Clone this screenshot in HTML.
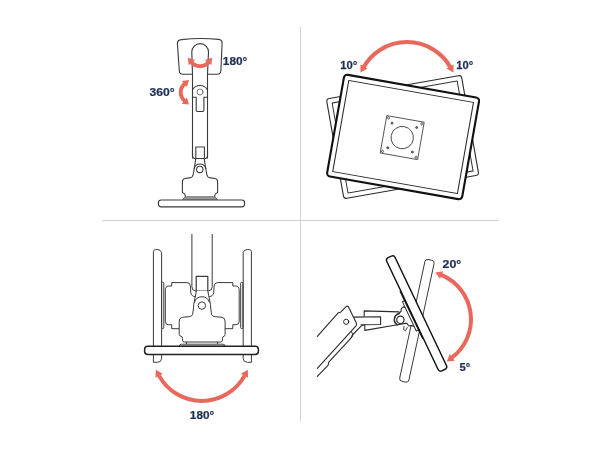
<!DOCTYPE html>
<html><head><meta charset="utf-8">
<style>
html,body{margin:0;padding:0;background:#fff;width:600px;height:450px;overflow:hidden}
svg{display:block}
text{font-family:"Liberation Sans",sans-serif;font-weight:bold;fill:#1f2f55;stroke:#1f2f55;stroke-linejoin:round}
svg{will-change:transform}
</style></head><body>
<svg width="600" height="450" viewBox="0 0 600 450">
<rect width="600" height="450" fill="#fff"/>
<!-- dividers -->
<line x1="102" y1="220.5" x2="498.5" y2="220.5" stroke="#d2d2d2" stroke-width="1"/>
<line x1="300.5" y1="27" x2="300.5" y2="421.5" stroke="#d2d2d2" stroke-width="1"/>

<g fill="none" stroke="#3a3a3a" stroke-width="1.1" stroke-linejoin="round" stroke-linecap="round">
<!-- ===== TOP LEFT ===== -->
<!-- head plate -->
<path d="M181.5,39.6 Q200,37.4 218.5,39.4 Q222.3,39.8 222.1,43.5 L220.9,70.5 Q220.7,74.3 217,74.3 L183,74.3 Q179.4,74.3 179.3,70.5 L177.4,43.5 Q177.3,40 181.5,39.6 Z" fill="#fff"/>
<!-- arm -->
<path d="M192.5,158 L192.5,74.3 L191.8,52 A8.35,8.35 0 0 1 208.5,52 L207.5,74.3 L207.5,158" fill="#fff"/>
<!-- pivot -->
<path d="M192.4,90 A8.6,8.6 0 0 1 207.5,90"/>
<path d="M192.4,97.3 L196.2,97.3 L196.2,110.3 Q196.2,111.5 197.4,111.5 L202.7,111.5 Q203.9,111.5 203.9,110.3 L203.9,97.3 L207.5,97.3"/>
<circle cx="200" cy="92" r="3" stroke-width="0.8" stroke="#555"/>
<!-- bottom of arm -->
<path d="M192.5,150 L192.5,156 Q192.5,158.5 195,158.5 L205,158.5 Q207.5,158.5 207.5,156 L207.5,150"/>
<rect x="195.8" y="147" width="8.6" height="11.5"/>
<!-- lower joint -->
<path d="M195.8,158.3 L194.7,166 L193.2,174.5 Q192.6,177.6 189.5,177.9 L185,178.5 Q182.4,178.9 182.4,181.7 L182.4,192 Q182.4,193 184,193.5 Q185.2,194 185.2,195.5 L185.2,196.5 M214.8,196.5 L214.8,195.5 Q214.8,194 216,193.5 Q217.6,193 217.6,192 L217.6,181.7 Q217.6,178.9 215,178.5 L210.5,177.9 Q207.4,177.6 206.8,174.5 L205.3,166 L204.2,158.3"/>
<path d="M194.2,168.5 A6,6 0 0 1 205.8,168.5"/>
<circle cx="199.8" cy="169.4" r="3.2"/>
<path d="M182.6,200.2 Q183,197.2 186.5,196.7 L213.5,196.7 Q217,197.2 217.4,200.2 Z" fill="#9a9a9a" stroke="#555" stroke-width="0.7"/>
<rect x="158.4" y="200" width="86.2" height="6.8" rx="2.9" fill="#fff" stroke-width="1.15"/>
</g>
<!-- TL red arrows -->
<g>
<path d="M208.43,62.27 A11,11 0 0 1 191.57,62.27" fill="none" stroke="#e8695b" stroke-width="4.1"/>
<path d="M212.15,57.83 L211.32,65.35 L204.89,59.95 Z" fill="#e8695b"/>
<path d="M187.85,57.83 L188.68,65.35 L195.11,59.95 Z" fill="#e8695b"/>
<path d="M184.74,100.96 A11.3,11.3 0 0 1 184.74,83.64" fill="none" stroke="#e8695b" stroke-width="3.9"/>
<path d="M189.03,104.56 L181.78,103.70 L186.92,97.57 Z" fill="#e8695b"/>
<path d="M189.03,80.04 L181.78,80.90 L186.92,87.03 Z" fill="#e8695b"/>
</g>
<text transform="translate(222.86,64.86) scale(0.05906,0.05528)" font-size="200" stroke-width="4.37">180°</text>
<text transform="translate(149.52,95.76) scale(0.06062,0.05810)" font-size="200" stroke-width="4.21">360°</text>

<!-- ===== TOP RIGHT ===== -->
<g fill="none" stroke="#2a2a2a" stroke-linejoin="round">
<!-- back monitor, rotated -10 -->
<g transform="translate(402.6,137) rotate(-10)">
<rect x="-68.5" y="-50.7" width="137" height="101.4" rx="3" fill="#fff" stroke-width="1.1"/>
<rect x="-63.5" y="-45.7" width="127" height="91.4" stroke-width="1"/>
</g>
<!-- front monitor, rotated +10 -->
<g transform="translate(403.1,137) rotate(10)">
<rect x="-68.6" y="-51.6" width="137.2" height="103.2" rx="3.5" fill="#fff" stroke-width="2.1" stroke="#111"/>
<rect x="-63.3" y="-46.3" width="126.6" height="92.6" stroke-width="1.05"/>
</g>
<!-- VESA -->
<g transform="translate(402.2,137.6) rotate(10)" stroke-width="0.85" stroke="#444">
<rect x="-19" y="-19" width="38" height="38"/>
<circle r="11.2" stroke-width="0.9"/>
<circle cx="-12.5" cy="-12.5" r="1" fill="#777"/>
<circle cx="12.5" cy="-12.5" r="1" fill="#777"/>
<circle cx="-12.5" cy="12.5" r="1" fill="#777"/>
<circle cx="12.5" cy="12.5" r="1" fill="#777"/>
<circle cx="-17" cy="-17" r="1.1" stroke-width="0.8"/><circle cx="17" cy="-17" r="1.1" stroke-width="0.8"/><circle cx="-17" cy="17" r="1.1" stroke-width="0.8"/><circle cx="17" cy="17" r="1.1" stroke-width="0.8"/>
</g>
</g>
<g>
<path d="M363.70,67.00 A50,50 0 0 1 450.30,67.00" fill="none" stroke="#e8695b" stroke-width="4.0"/>
<path d="M360.55,72.46 L360.40,64.52 L367.50,68.62 Z" fill="#e8695b"/>
<path d="M453.45,72.46 L453.60,64.52 L446.50,68.62 Z" fill="#e8695b"/>
</g>
<text transform="translate(340.19,68.51) scale(0.05641,0.05775)" font-size="200" stroke-width="4.38">10°</text>
<text transform="translate(456.20,68.51) scale(0.05605,0.05775)" font-size="200" stroke-width="4.39">10°</text>

<!-- ===== BOTTOM LEFT ===== -->
<g fill="none" stroke="#3a3a3a" stroke-width="1" stroke-linejoin="round">
<!-- posts -->
<path d="M153.4,362.3 L153.4,251.5 Q153.4,249.8 155.5,249.6 L157.5,249.5 Q160.5,249.6 161.6,252.3 L161.6,358.8 Q161.4,362.1 157.5,362.3 Z" fill="#fff"/>
<path d="M251.4,362.3 L251.4,251.5 Q251.4,249.8 249.3,249.6 L247.3,249.5 Q244.3,249.6 243.2,252.3 L243.2,358.8 Q243.4,362.1 247.3,362.3 Z" fill="#fff"/>
<!-- housing halves -->
<g id="hh">
<rect x="161.6" y="282.3" width="2.2" height="46.3" rx="1"/>
<path d="M165.3,321.3 L165.3,290.7 Q165.3,286 168.5,286 L171.7,286 L171.7,282.6 L187,282.6 Q190.2,282.8 190.4,286 L190.8,292.5 Q191.2,296.5 196,296.8"/>
<path d="M165.3,321.3 Q165.3,324.7 168.5,324.7 L171.7,324.7 L171.7,328.7 L179.5,328.7"/>
</g>
<g transform="translate(404.5,0) scale(-1,1)">
<rect x="161.6" y="282.3" width="2.2" height="46.3" rx="1"/>
<path d="M165.3,321.3 L165.3,290.7 Q165.3,286 168.5,286 L171.7,286 L171.7,282.6 L187,282.6 Q190.2,282.8 190.4,286 L190.8,292.5 Q191.2,296.5 196,296.8"/>
<path d="M165.3,321.3 Q165.3,324.7 168.5,324.7 L171.7,324.7 L171.7,328.7 L179.5,328.7"/>
</g>
<!-- arm -->
<path d="M191.9,234 L191.9,286.8 Q191.9,290.8 195.6,290.8 L208.4,290.8 Q212.2,290.8 212.2,286.8 L212.2,234" fill="#fff"/>
<rect x="196.2" y="276.4" width="11.6" height="14.6" fill="#fff" stroke-width="1.2"/>
<!-- body -->
<path d="M196.4,291 L194.6,300 Q193.6,304 193.4,309 L192.6,314.5 Q192.2,316.3 189.5,316.6 L182.5,317.3 Q179.2,317.8 179.2,321.2 L179.2,334.5 Q179.2,336 181,336.2 Q182.5,336.5 182.5,338.5 L182.5,340.5 Q182.6,342 184.5,342 L220.5,342 Q222.4,342 222.5,340.5 L222.5,338.5 Q222.5,336.5 224,336.2 Q225.1,336 225.1,334.5 L225.1,321.2 Q225.1,317.8 221.8,317.3 L214.8,316.6 Q212,316.3 211.6,314.5 L210.8,309 Q210.6,304 209.6,300 L207.8,291" fill="#fff"/>
<path d="M194.4,302.4 A7.8,7.8 0 0 1 209.4,302.4"/>
<circle cx="201.9" cy="305.6" r="3.7"/>
<path d="M186.5,342 L186.5,344 M217.5,342 L217.5,344"/>
<path d="M179.3,346.2 Q179.5,344.2 181.5,344.2 L223,344.2 Q225,344.2 225.2,346.2 Z" fill="#e6e6e6" stroke-width="0.9"/>
<!-- base -->
<rect x="144.6" y="346.3" width="113.8" height="8.2" rx="3.2" fill="#fff" stroke-width="1.5" stroke="#222"/>
</g>
<g>
<path d="M244.77,375.33 A48.9,48.9 0 0 1 158.83,375.33" fill="none" stroke="#e8695b" stroke-width="4.0"/>
<path d="M247.78,369.80 L248.14,377.73 L240.93,373.82 Z" fill="#e8695b"/>
<path d="M155.82,369.80 L155.46,377.73 L162.67,373.82 Z" fill="#e8695b"/>
</g>
<text transform="translate(189.86,419.36) scale(0.05906,0.05599)" font-size="200" stroke-width="4.35">180°</text>

<!-- ===== BOTTOM RIGHT ===== -->
<g fill="none" stroke="#2a2a2a" stroke-linejoin="round" stroke-linecap="round">
<!-- back monitor -->
<g transform="translate(416.9,320.8) rotate(12.2)">
<rect x="-4.7" y="-62.3" width="9.4" height="124.6" rx="2.8" fill="#fff" stroke-width="0.9" stroke="#333"/>
</g>
<!-- arm -->
<path d="M317.3,336.3 L338.4,312.7 L340.7,312.2 L346.4,306.4 Q347.4,305.6 348.4,306.7 L356.3,323 Q357,324.8 355.8,326.2 L317.3,368.3" fill="#fff" stroke-width="1.1"/>
<path d="M317.3,376.3 L327.5,365.8 Q328.6,364.6 328.8,362.2 L350.7,338.3 Q351.8,337 352.4,335 L360.8,326.4 Q362.6,324.7 365,324.7 L370,324.7" stroke-width="1.1"/>
<circle cx="346.2" cy="321.8" r="2.6" stroke-width="1"/>
<path d="M351.4,331.6 Q353.4,334 352.6,336.4 L350,338.8" stroke-width="0.9"/>
<!-- connector -->
<path d="M364.2,316.2 L364.2,310.9 L399,311.9 L402,318 L397.4,324.8 L364.8,330.4 L364.8,324.7" fill="#fff" stroke-width="1.1"/>
<path d="M354,317.1 L380.6,316.7 L380.6,324.5 L361,324.7" fill="#fff" stroke-width="1.1"/>
<path d="M403.6,306.8 L401.3,308.6 L401.1,311.2 L399,313.6 A6.1,6.1 0 0 0 397.4,324.8 L405.6,323.4 L406.9,323.4 L408.6,325.8 L411.5,325.6 L416.5,326.8 L412,312 Z" fill="#fff" stroke-width="1.1"/>
<path d="M399,313.6 A6.1,6.1 0 0 0 397.4,324.8" stroke-width="1.4"/>
<path d="M404,326.5 L403.6,329.5 L405.5,330.8 L407.2,327.5" stroke-width="0.9"/>
<circle cx="400.4" cy="319.8" r="3.7" fill="#fff" stroke-width="1.2"/>
<!-- front monitor -->
<g transform="translate(416.8,313.4) rotate(-25.4)">
<rect x="-8" y="-16.8" width="3.2" height="32.5" fill="#fff" stroke-width="1"/>
<rect x="-4.8" y="-62.6" width="9.2" height="125.2" rx="2.8" fill="#fff" stroke-width="1.45" stroke="#111"/>
<path d="M-5.6,-27 L-5.6,25" stroke-width="1.1" stroke="#111"/>
</g>

</g>
<g>
<path d="M441.14,274.86 A48,48 0 0 1 451.82,357.68" fill="none" stroke="#e8695b" stroke-width="4.0"/>
<path d="M435.30,272.48 L443.15,271.25 L440.05,278.84 Z" fill="#e8695b"/>
<path d="M446.78,361.47 L454.68,360.66 L449.76,354.11 Z" fill="#e8695b"/>
</g>
<text transform="translate(442.59,267.57) scale(0.06185,0.05387)" font-size="200" stroke-width="4.32">20°</text>
<text transform="translate(459.49,370.62) scale(0.05621,0.05461)" font-size="200" stroke-width="4.51">5°</text>
</svg>
</body></html>
